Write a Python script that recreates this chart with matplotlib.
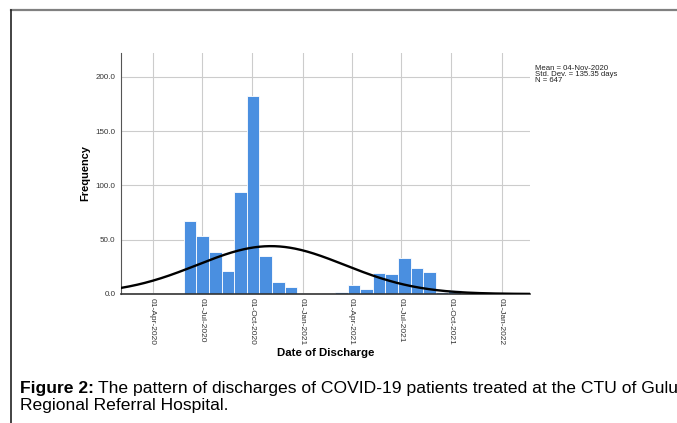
import matplotlib
matplotlib.use("Agg")
import matplotlib.pyplot as plt
import matplotlib.dates as mdates
from matplotlib.lines import Line2D
import numpy as np
import pandas as pd

plt.rcParams['font.family'] = ['Liberation Sans', 'DejaVu Sans']

# Histogram bins (SPSS style, ~23 day bins)
bin_start = pd.Timestamp("2020-03-20")
bin_width = 23.1  # days
counts = [1, 0, 0, 67, 53, 39, 21, 94, 182, 35, 11, 6, 1, 0, 1, 2,
          8, 5, 19, 18, 33, 24, 20, 2, 4]

# Summary stats shown in the legend
mean_date = pd.Timestamp("2020-11-04")
std_days = 135.35
n_total = 647

tick_dates = ["2020-04-01", "2020-07-01", "2020-10-01", "2021-01-01",
              "2021-04-01", "2021-07-01", "2021-10-01", "2022-01-01"]
tick_labels = ["01-Apr-2020", "01-Jul-2020", "01-Oct-2020", "01-Jan-2021",
               "01-Apr-2021", "01-Jul-2021", "01-Oct-2021", "01-Jan-2022"]
y_ticks = [0, 50, 100, 150, 200]

fig = plt.figure(figsize=(6.77, 4.23), dpi=100)
ax = fig.add_axes([0.1787, 0.305, 0.604, 0.570])

lefts = [bin_start + pd.Timedelta(days=bin_width * i) for i in range(len(counts))]
ax.bar(mdates.date2num(lefts), counts, width=bin_width, align='edge',
       color='#4a8fe0', edgecolor='white', linewidth=0.6, zorder=2)

# fitted normal curve
x0 = mdates.date2num(pd.Timestamp("2020-02-03"))
x1 = mdates.date2num(pd.Timestamp("2022-02-22"))
xs = np.linspace(x0, x1, 400)
mu = mdates.date2num(mean_date)
ys = n_total * bin_width / (std_days * np.sqrt(2 * np.pi)) * np.exp(-0.5 * ((xs - mu) / std_days) ** 2)
ax.plot(xs, ys, color='black', linewidth=1.7, zorder=3)

ax.set_xlim(x0, x1)
ax.set_ylim(0, 222)
ax.set_xticks(mdates.date2num(pd.to_datetime(tick_dates)))
ax.set_xticklabels(tick_labels, rotation=270, fontsize=6.0, color='#333333')
ax.set_yticks(y_ticks)
ax.set_yticklabels([f"{v:.1f}" for v in y_ticks], fontsize=5.8, color='#333333')
ax.tick_params(axis='x', length=0, pad=3)
ax.tick_params(axis='y', length=0, pad=4)
ax.grid(True, color='#cccccc', linewidth=0.8, zorder=0)
ax.set_axisbelow(True)
for s in ['top', 'right']:
    ax.spines[s].set_visible(False)
ax.spines['left'].set_color('#555555')
ax.spines['bottom'].set_color('#333333')
ax.spines['bottom'].set_linewidth(1.2)

ax.set_ylabel("Frequency", fontsize=7.9, fontweight='bold', labelpad=4)
ax.set_xlabel("Date of Discharge", fontsize=8.2, fontweight='bold', labelpad=2)

fig.text(0.790, 0.847, f"Mean = {mean_date.strftime('%d-%b-%Y')}\nStd. Dev. = {std_days} days\nN = {n_total}",
         fontsize=5.6, va='top', ha='left', linespacing=0.85, color='#222222')

# page frame
fig.add_artist(Line2D([11 / 677, 1], [1 - 10 / 423, 1 - 10 / 423], color='#808080', linewidth=1.6))
fig.add_artist(Line2D([11 / 677, 11 / 677], [0, 1 - 10 / 423], color='#222222', linewidth=1.2))

# caption
cap_size = 12.6
bold = fig.text(20 / 677, 1 - 388 / 423, "Figure 2:", fontsize=cap_size, fontweight='bold', va='center', ha='left')
fig.canvas.draw()
bb = bold.get_window_extent().transformed(fig.transFigure.inverted())
fig.text(bb.x1 + 4 / 677, 1 - 388 / 423, "The pattern of discharges of COVID-19 patients treated at the CTU of Gulu",
         fontsize=cap_size, va='center', ha='left')
fig.text(20 / 677, 1 - 405 / 423, "Regional Referral Hospital.", fontsize=cap_size, va='center', ha='left')

fig.savefig("out.png", dpi=100)
